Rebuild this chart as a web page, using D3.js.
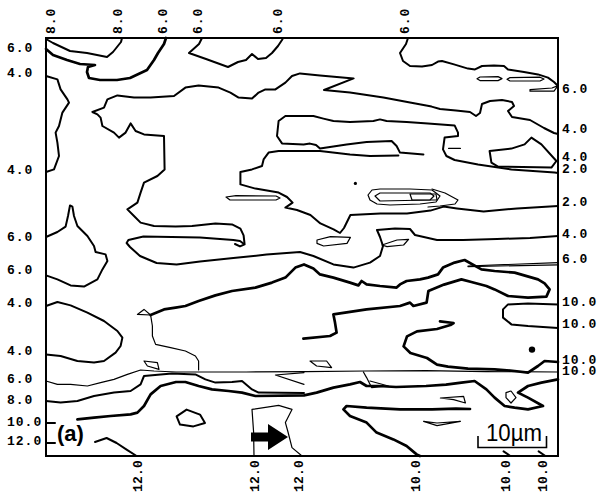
<!doctype html>
<meta charset='utf-8' />
<script src='https://cdn.jsdelivr.net/npm/d3@7/dist/d3.min.js'></script>
<style>body{margin:0;background:#fff}</style>
<svg></svg>
<script>
    var width = 597,
        height = 493,
        cols = 256,   // scan grid columns
        rows = 209    // scan grid rows

    // contour traces, as [column, row] of the scan grid
    var c8a = [[0,0.5],[3.5,2.5],[12,6.5],[20.5,7.5],[30.5,9.5],[33.5,7],[37.5,2],[38,0]]
    var c6a = [[0,5.5],[3.5,8.5],[10.5,11],[17,13],[24.5,13.5],[21,14.5],[20.5,17],[21.5,20],[27,21],[35.5,21],[42,20],[50.5,16],[54,11],[56,7.5],[59,3],[60,0]]
    var c6b = [[78,0],[76.5,3],[71.5,7.5],[80,10.5],[91,14.5],[96,12],[100,11],[103,8],[106,10.5],[110,10],[113,7.5],[116,4],[118,1],[118.5,0]]
    var c6c = [[181,0],[180,3],[177,7.5],[178.5,11.5],[182,14],[188,14.3],[193,13.5],[196,11.8],[198,11.5],[204,13.2],[211,15.3],[214.5,15.7],[218,14],[224,13.7],[229,14],[231,15.7],[239,17],[246,18.2],[251,19.8],[254,22],[256,24]]
    var r6a = [[217,19.5],[226,19.3],[228,20.3],[226,21.3],[217,21.3],[215.5,20.4]]
    var r6b = [[232,19.8],[247,19.6],[249,20.5],[247,21.5],[232,21.5],[230.5,20.6]]
    var r6c = [[242,25.8],[253,25],[256,23.8],[254,26.6],[242,26.6]]
    var c4a = [[0,19],[5.7,20.7],[7.3,25.7],[10.7,30.7],[11.5,32.3],[8.2,37.3],[6.5,44],[4.8,47.3],[5.7,52.3],[6.5,59],[4,65.7],[0,67]]
    var c4b = [[256,48],[254,47.5],[249,45],[242,41],[233,39.5],[231,36.5],[234,34],[233,32],[228,31],[222,31.5],[218,33],[217,37.5],[215,39],[212,37],[205,36.3],[197,35.5],[192.8,34.3],[182,32.3],[168.7,29.8],[152,27.3],[139,26],[153.8,20.2],[137,18.7],[127,17.7],[123,19],[119.7,22.3],[114.7,25.7],[109.7,25.7],[106.3,27.3],[103,30.3],[96.3,29.8],[92.2,27.3],[86.3,24.8],[76.3,23.7],[69.7,24.8],[64,29],[52.3,29.8],[44,29.8],[35.7,28.7],[30.7,30.7],[29,34.8],[23.2,37],[25.7,38.2],[27.3,39.8],[28.2,44],[34,47.3],[36.5,49.8],[39.8,47.3],[42.3,42.7],[44.8,46.5],[49,48.2],[59,49],[59.3,65.7],[55.7,69],[49,72.3],[47.3,77.3],[45.7,82.3],[40.7,85.7],[44,89],[47.3,92.3],[54,94],[64.8,94.3],[73,94],[84.7,92.8],[93,93.2],[97.2,95.3],[98.8,98.7],[99.3,103.2],[97,104.2],[94.5,103]]
    var c2a = [[256,67.5],[254.3,67.3],[232.7,65.7],[216,63.2],[204.3,61],[200.2,59],[198.5,55.7],[199.3,49.8],[206,49],[206,47.3],[204.3,43.7],[191,42.7],[180.3,42],[170.3,41.5],[167,40.7],[163.7,41.5],[152,42],[143.7,41.5],[138.7,40.3],[133.7,39],[127,39],[119.7,39],[116.3,41.5],[115.5,49],[118,52.7],[128.8,53.2],[132,52.8],[135,53.5],[137,55.3],[150.3,53.2],[160.3,52],[172.8,51.5],[175.3,54],[177,57.3],[188.7,58.2]]
    var c2b = [[176.2,58.7],[162,59],[152,58.2],[137,56.5],[128.8,56.5],[116.3,56.5],[111.3,57.3],[108.8,60.7],[108,64],[103,65.7],[97.2,67],[97.2,73.2],[104.7,75.3],[116.3,77.3],[120.5,79.5],[123.3,82.3],[119.7,84.8],[125.5,86],[132.2,88.5],[137.2,92.7],[143.8,95.7],[147,97.5],[149,95],[152.2,88.5],[167.2,87.7],[180.5,87.7],[192.2,86.3],[198.8,84.3],[205.5,85.2],[218.8,86.8],[235.5,85.2],[256,84]]
    var r4a = [[221.8,56.5],[222.7,62.3],[226,64.3],[252.7,64.8],[255.2,61.5],[247.7,53.2],[242.7,49.8],[239.3,53.2],[232.7,55.3]]
    var d4a = [[201.3,55.2],[207.2,55.2]]
    var r2a = [[161,78.5],[163,76],[167,75.5],[182,75.5],[193,76],[197,79],[195,82],[187,83],[172,83.5],[165.5,83],[162,81]]
    var r2b = [[164.5,79],[167,77.5],[192,77.5],[194,79],[192,81],[167,81.5]]
    var r2c = [[182,78],[195,78],[195.5,81],[183,81]]
    var r2d = [[193,75.5],[199.5,77.5],[206,81],[204.5,83],[197,84],[191,84.5]]
    var r4b = [[90,79.5],[95,78.8],[115,79],[117,80],[115,81],[92,81]]
    var c6d = [[0,99.5],[5.7,97],[9.8,94.3],[11,89],[12,83.7],[13.2,84.3],[14,89],[15.7,94],[20.7,99],[24,104],[24.8,107],[29.8,108.2],[30.7,111.5],[28.2,115.7],[25.7,120.7],[19,124.3],[12.3,123.7],[5.7,120.7],[0,118.7]]
    var c4c = [[99,103],[97,101.5],[93.7,101],[77,99.7],[48.7,99.3],[41.2,101],[40.3,102.5],[42,104.5],[47,109],[55.3,112.5],[65.3,113.3],[77,111.7],[93.7,110],[110.3,108.3],[127,107],[133.7,109],[143.7,113.2],[153.7,114.8],[162,112.3],[167,109],[168.5,104],[167,99.5],[165.5,96],[174.5,95.2],[182,95.5],[184.5,98.5],[195.5,101],[208.5,101],[225.5,100.5],[242,100],[256,99]]
    var r4c = [[135.5,101],[142.2,99.3],[152.2,99.7],[150.5,102.7],[138.8,104],[135.5,102.7]]
    var r4d = [[168,103.5],[175.5,101],[181.3,100.7],[178.8,103.5],[170.5,104.3]]
    var c4d = [[0,134],[5.7,132],[12.3,133.7],[20.7,137.3],[29,141.5],[35.7,146.5],[38.2,149.8],[37.3,154],[34.8,157.3],[29,161.5],[24,162.3],[15.7,161.5],[7.3,159],[0,158.2]]
    var c6e = [[76.3,166],[76.3,161.5],[74.7,159],[69.7,156.5],[62.3,154.8],[54.8,153.2],[53.2,149],[53.2,144],[52.3,138.5],[49,135.7],[45.7,138.2],[52.3,138.5]]
    var c10a = [[52.3,138.5],[59,135.7],[64.8,134.8],[69.7,134],[76.3,131.5],[84.7,128.7],[93,126.5],[104.7,124.8],[113,122.3],[119.7,119.8],[124.7,114.8],[129,113.2],[133.7,115.3],[137,118.2],[143.7,119.8],[152,122.3],[156.2,123.7],[157.8,121.5],[160.3,123.2],[167,124],[175.3,124.8],[177,123.2],[180.3,121.5],[187,120.7],[191,119.8],[196,118.2],[198.5,114.8],[204.3,112.3],[209.3,111],[217.7,115.7],[224.3,116.5],[234.3,117.3],[246,120.7],[249.3,122.7],[251.8,125.7],[250.2,129.3],[241,129.8],[231,129],[224.3,125.7],[220.2,124],[212.7,122],[207.7,120.7],[199,123.3],[193,125.7],[191.2,126.5],[190.3,132.3],[183.7,134],[182,132.3],[177,134],[160.3,135.7],[143.7,138.2],[144.5,142.3],[145.3,147.3],[142,149],[128.7,150.3]]
    var c6f = [[211,114],[256,112.3]]
    var c6g = [[211,114.3],[256,113.4]]
    var c10b = [[256,133.2],[241,132.7],[231,133.2],[228.5,135.7],[228.5,139.8],[232.7,143.2],[241,144],[256,145]]
    var c10c = [[197,141.7],[203.8,142.5],[202.2,143.5],[195.5,145.5],[185.5,146.7],[180.5,149.2],[178.8,154.2],[182.2,157.5],[190.5,160],[195.5,163.3],[201,164.3],[211,165.3],[224.3,165.7],[234.3,166.5],[241,167.3],[246,164],[249.3,161.5],[256,162]]
    var r8a = [[132,161.5],[140.3,161.5],[142.8,164.8],[135.3,164]]
    var r6d = [[49,161.5],[55.7,162.3],[56.5,165.7],[50.7,164]]
    var c6h = [[0,171.5],[5.7,173.2],[12.3,173.2],[20.7,174],[27.3,172.3],[34,170.7],[40.7,168.2],[47.3,166],[54,166.5],[65,167],[100,167],[130,166.8],[160,166.5],[190,166.3],[220,166.8],[256,167]]
    var c8b = [[129,167.3],[114.7,168.5],[129,173.2]]
    var c8c = [[158.7,167],[160.3,169.8],[162.8,174.8],[171.2,174],[162,171.5]]
    var c8d = [[0,181.5],[7.3,182.3],[15.7,181.5],[24,179],[34,177.3],[42.3,176.5],[47.3,173.2],[49,169],[57.3,168.2],[63,167.8],[74.7,168.2],[79.7,170.7],[84.7,172.3],[93,172],[98,171.5],[103,175.7],[106.3,177.3],[129,177.5]]
    var c10d = [[15.7,190.7],[24,189.8],[32.3,189],[42.3,188.2],[45.7,187.3],[49,184],[52.3,178.2],[57.3,174],[65,172],[69.7,172],[76.3,174],[83,175.7],[91.3,176.5],[98,177.3],[104.7,179],[129,178.7],[135.3,177.3],[143.7,174.8],[152,173.2],[157,172],[160.3,174],[166.2,174],[175,174.5],[190,174],[200,173.3],[207.7,172.3],[214.3,171.5],[220.2,175.7],[224.3,179.8],[229.3,184],[234.3,184.8],[241,185.7],[248.5,184],[241,179.8],[236,177.3],[241,174],[247.7,172.3],[256,170.7]]
    var c10e = [[187,209],[185.3,208.2],[180.3,204],[173.7,200.7],[165.3,197.3],[160.3,192.3],[152,189],[148.7,185.7],[150.3,184],[160.3,184.8],[177,185.7],[193,185.7],[205,185.3],[212,185.5]]
    var r10a = [[65.3,189.2],[70.3,185.8],[77,188.3],[79.5,192.5],[73.7,194.2],[67,193.3]]
    var c12a = [[104,209],[103.8,197],[103,185.7],[116.3,183.7],[123,185.7],[119.7,192.3],[121,197],[123,204.8],[128,209]]
    var c12b = [[24.5,202],[30.3,200],[35.3,202.5],[40.3,205.8],[45.3,209]]
    var t10 = [[0,192.5],[4.5,192.5]]
    var t12 = [[0,202.5],[4.5,202.5]]
    var r10b = [[188.8,191.7],[195.5,192.5],[207.2,191.7],[195.5,193.8]]
    var r10c = [[197.2,180],[208.8,179.2],[209.7,182.5],[203.8,180.8]]
    var r10d = [[230,177.3],[232.5,176.5],[235,179.8],[232.5,182.5],[230,179.8]]
    var b10a = [[228.8,206.7],[232.2,209]]
    var b10b = [[246.3,206.7],[249.7,209]]

    var contours = [
        { id: 'c8a', level: 8, pts: c8a }, { id: 'c6a', level: 6, pts: c6a },
        { id: 'c6b', level: 6, pts: c6b }, { id: 'c6c', level: 6, pts: c6c },
        { id: 'r6a', level: 6, pts: r6a, closed: true }, { id: 'r6b', level: 6, pts: r6b, closed: true },
        { id: 'r6c', level: 6, pts: r6c, closed: true }, { id: 'c4a', level: 4, pts: c4a },
        { id: 'c4b', level: 4, pts: c4b }, { id: 'c2a', level: 2, pts: c2a },
        { id: 'c2b', level: 2, pts: c2b }, { id: 'r4a', level: 4, pts: r4a, closed: true },
        { id: 'd4a', level: 4, pts: d4a },
        { id: 'r2a', level: 2, pts: r2a, closed: true }, { id: 'r2b', level: 2, pts: r2b, closed: true },
        { id: 'r2c', level: 2, pts: r2c, closed: true }, { id: 'r2d', level: 2, pts: r2d },
        { id: 'r4b', level: 4, pts: r4b, closed: true }, { id: 'c6d', level: 6, pts: c6d },
        { id: 'c4c', level: 4, pts: c4c }, { id: 'r4c', level: 4, pts: r4c, closed: true },
        { id: 'r4d', level: 4, pts: r4d, closed: true }, { id: 'c4d', level: 4, pts: c4d },
        { id: 'c6e', level: 6, pts: c6e }, { id: 'c10a', level: 10, pts: c10a },
        { id: 'c6f', level: 6, pts: c6f }, { id: 'c6g', level: 6, pts: c6g },
        { id: 'c10b', level: 10, pts: c10b }, { id: 'c10c', level: 10, pts: c10c },
        { id: 'r8a', level: 8, pts: r8a, closed: true }, { id: 'r6d', level: 6, pts: r6d, closed: true },
        { id: 'c6h', level: 6, pts: c6h }, { id: 'c8b', level: 8, pts: c8b },
        { id: 'c8c', level: 8, pts: c8c }, { id: 'c8d', level: 8, pts: c8d },
        { id: 'c10d', level: 10, pts: c10d }, { id: 'c10e', level: 10, pts: c10e },
        { id: 'r10a', level: 10, pts: r10a, closed: true }, { id: 'c12a', level: 12, pts: c12a },
        { id: 'c12b', level: 12, pts: c12b }, { id: 't10', level: 10, pts: t10 },
        { id: 't12', level: 12, pts: t12 }, { id: 'r10b', level: 10, pts: r10b, closed: true },
        { id: 'r10c', level: 10, pts: r10c, closed: true }, { id: 'r10d', level: 10, pts: r10d, closed: true },
        { id: 'b10a', level: 10, pts: b10a }, { id: 'b10b', level: 10, pts: b10b }
    ]

    // isolated peaks, [column, row, size]
    var spots = [[154.7, 72.7, 1.6], [243, 155.8, 3.2]]

    // contour values written around the frame
    var topLabels = [[2, '8.0'], [35.5, '8.0'], [58, '6.0'], [75.5, '6.0'], [115.5, '6.0'], [179, '6.0']]
    var bottomLabels = [[45.5, '12.0'], [104, '12.0'], [126, '12.0'], [184.5, '10.0'], [229.5, '10.0'], [248, '10.0']]
    var leftLabels = [[4.7, '6.0'], [17, '4.0'], [65.5, '4.0'], [99, '6.0'], [115.5, '6.0'], [132, '4.0'], [156.2, '4.0'], [170, '6.0'], [180.5, '8.0'], [191.5, '10.0'], [201.2, '12.0']]
    var rightLabels = [[25, '6.0'], [45.2, '4.0'], [59, '4.0'], [65, '2.0'], [81.8, '2.0'], [97.8, '4.0'], [110, '6.0'], [131.5, '10.0'], [142.8, '10.0'], [160.6, '10.0'], [166.3, '10.0']]

    var thinIds = ['r6a', 'r6b', 'r6c', 'd4a', 'r2a', 'r2b', 'r2c', 'r2d', 'r4b', 'c6f', 'c6g', 'c6h', 'c8b', 'c8c', 'c12a', 'r10b', 'r10c', 'r10d', 'r4c', 'r4d', 'r6d', 'r8a', 'c6e']
    var heavyIds = ['c10a', 'c10d', 'c10e', 'c10c', 'c6a']

    var svg = d3.select('svg')
        .attr('width', width)
        .attr('height', height)
        .style('display', 'block')

    var x = d3.scaleLinear().domain([0, cols]).range([46, 558])
    var y = d3.scaleLinear().domain([0, rows]).range([38, 456])

    var line = d3.line().x(d => x(d[0])).y(d => y(d[1]))

    svg.append('g')
        .selectAll('path')
        .data(contours)
        .enter()
        .append('path')
        .attr('d', d => line(d.pts) + (d.closed ? 'Z' : ''))
        .attr('fill', 'none')
        .attr('stroke', '#000')
        .attr('stroke-linejoin', 'round')
        .attr('stroke-linecap', 'round')
        .attr('stroke-width', d => thinIds.includes(d.id) ? 1.2 : heavyIds.includes(d.id) ? 2.7 : 2)

    svg.selectAll('circle.spot')
        .data(spots)
        .enter()
        .append('circle')
        .attr('cx', d => x(d[0]))
        .attr('cy', d => y(d[1]))
        .attr('r', d => d[2])
        .attr('fill', '#000')

    // frame
    svg.append('rect')
        .attr('x', x(0)).attr('y', y(0))
        .attr('width', x(cols) - x(0)).attr('height', y(rows) - y(0))
        .attr('fill', 'none').attr('stroke', '#000').attr('stroke-width', 2)

    var font = "'Liberation Mono', 'DejaVu Sans Mono', monospace"

    function labelStyle(sel) {
        sel.attr('font-family', font)
            .attr('font-size', 13)
            .attr('font-weight', 'bold')
            .attr('letter-spacing', 1)
            .attr('fill', '#000')
    }

    svg.selectAll('text.left')
        .data(leftLabels)
        .enter()
        .append('text')
        .attr('x', 7)
        .attr('y', d => y(d[0]) + 4.5)
        .text(d => d[1])
        .call(labelStyle)

    svg.selectAll('text.right')
        .data(rightLabels)
        .enter()
        .append('text')
        .attr('x', 562)
        .attr('y', d => y(d[0]) + 4.5)
        .text(d => d[1])
        .call(labelStyle)

    svg.selectAll('text.top')
        .data(topLabels)
        .enter()
        .append('text')
        .attr('transform', d => 'translate(' + (x(d[0]) + 4.5) + ',34) rotate(-90)')
        .text(d => d[1])
        .call(labelStyle)

    svg.selectAll('text.bottom')
        .data(bottomLabels)
        .enter()
        .append('text')
        .attr('text-anchor', 'end')
        .attr('transform', d => 'translate(' + (x(d[0]) + 4.5) + ',460) rotate(-90)')
        .text(d => d[1])
        .call(labelStyle)
        .attr('letter-spacing', 0.2)

    // panel letter
    svg.append('text')
        .attr('x', 57).attr('y', 441)
        .attr('font-family', 'Liberation Sans, Arial, sans-serif')
        .attr('font-size', 22)
        .attr('font-weight', 'bold')
        .text('(a)')

    // direction arrow
    var ax = x(111), ay = y(199.5)
    svg.append('path')
        .attr('d', 'M' + (ax - 17) + ',' + (ay - 4.5) + 'H' + ax + 'V' + (ay - 13) + 'L' + (ax + 20) + ',' + ay +
            'L' + ax + ',' + (ay + 13) + 'V' + (ay + 4.5) + 'H' + (ax - 17) + 'Z')
        .attr('fill', '#000')

    // scale bar, 10 µm
    svg.append('text')
        .attr('x', 486).attr('y', 441)
        .attr('font-family', 'Liberation Sans, Arial, sans-serif')
        .attr('font-size', 24)
        .attr('textLength', 56)
        .attr('lengthAdjust', 'spacingAndGlyphs')
        .text('10µm')
    svg.append('path')
        .attr('d', 'M478,436V447.5H546.5V436')
        .attr('fill', 'none').attr('stroke', '#000').attr('stroke-width', 1.6)
</script>
